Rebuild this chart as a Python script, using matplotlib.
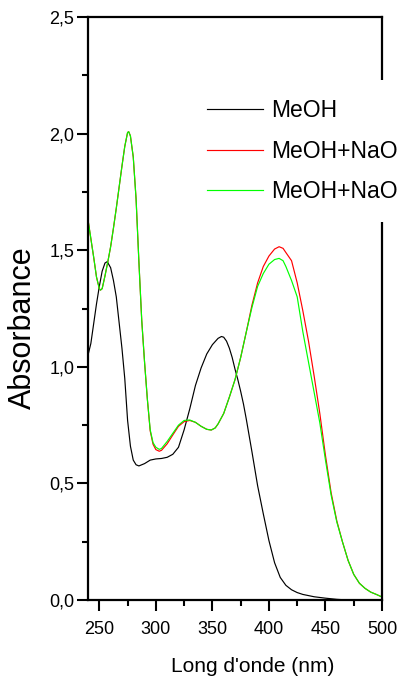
import matplotlib
matplotlib.use("Agg")
import matplotlib.pyplot as plt
from matplotlib.ticker import MultipleLocator, FuncFormatter

plt.rcParams['font.family'] = ['Liberation Sans', 'DejaVu Sans']

# MeOH
wl_meoh = [240, 242.5, 245, 247.5, 250, 252.5, 255, 257, 260, 262.5, 265, 267.5,
           270, 272.5, 275, 277.5, 280, 282.5, 285, 290, 295, 300, 305, 310, 315,
           320, 325, 330, 335, 340, 345, 350, 355, 358, 360, 362.5, 365, 367.5,
           370, 372.5, 375, 377.5, 380, 385, 390, 395, 400, 405, 410, 415, 420,
           425, 430, 440, 450, 460, 470, 500]
abs_meoh = [1.05, 1.10, 1.185, 1.27, 1.345, 1.41, 1.445, 1.451, 1.425, 1.37,
            1.30, 1.19, 1.08, 0.95, 0.77, 0.66, 0.60, 0.58, 0.575, 0.585, 0.60,
            0.605, 0.607, 0.612, 0.625, 0.655, 0.73, 0.82, 0.92, 0.995, 1.055,
            1.095, 1.122, 1.13, 1.127, 1.11, 1.08, 1.04, 0.99, 0.945, 0.895,
            0.84, 0.775, 0.635, 0.49, 0.37, 0.255, 0.16, 0.097, 0.063, 0.044,
            0.032, 0.024, 0.014, 0.008, 0.003, 0.0, 0.0]

# MeOH+NaOH
wl_naoh = [240, 242.5, 245, 247.5, 250, 251, 252.5, 255, 257.5, 260, 262.5, 265,
           267.5, 270, 272.5, 275, 276, 277.5, 280, 282.5, 285, 287.5, 290, 292.5,
           295, 297.5, 300, 303, 305, 310, 315, 320, 325, 330, 335, 340, 345, 349,
           352.5, 355, 360, 365, 370, 375, 380, 385, 390, 395, 400, 405, 409,
           412.5, 415, 420, 425, 430, 435, 440, 445, 450, 455, 460, 465, 470, 475,
           480, 485, 490, 495, 500]
# red curve
abs_naoh1 = [1.63, 1.55, 1.47, 1.385, 1.335, 1.329, 1.335, 1.39, 1.45, 1.515,
             1.595, 1.68, 1.77, 1.86, 1.945, 2.005, 2.008, 1.99, 1.90, 1.72, 1.45,
             1.20, 1.02, 0.86, 0.725, 0.668, 0.645, 0.638, 0.642, 0.67, 0.708,
             0.745, 0.765, 0.77, 0.762, 0.745, 0.732, 0.729, 0.738, 0.755, 0.80,
             0.87, 0.945, 1.04, 1.15, 1.265, 1.36, 1.43, 1.475, 1.505, 1.515,
             1.508, 1.49, 1.455, 1.36, 1.24, 1.11, 0.96, 0.80, 0.62, 0.46, 0.34,
             0.25, 0.17, 0.11, 0.072, 0.05, 0.034, 0.024, 0.013]
# green curve
abs_naoh2 = [1.63, 1.55, 1.47, 1.385, 1.335, 1.329, 1.335, 1.39, 1.45, 1.515,
             1.595, 1.68, 1.77, 1.86, 1.945, 2.005, 2.008, 1.99, 1.90, 1.72, 1.45,
             1.20, 1.02, 0.86, 0.73, 0.675, 0.655, 0.646, 0.65, 0.68, 0.715,
             0.75, 0.77, 0.772, 0.762, 0.745, 0.732, 0.729, 0.738, 0.755, 0.80,
             0.87, 0.945, 1.04, 1.15, 1.255, 1.345, 1.40, 1.44, 1.46, 1.465,
             1.455, 1.43, 1.37, 1.30, 1.15, 1.02, 0.89, 0.76, 0.60, 0.45, 0.335,
             0.25, 0.17, 0.11, 0.072, 0.05, 0.034, 0.024, 0.013]

labels = ["MeOH", "MeOH+NaOH", "MeOH+NaOH"]
colors = ["black", "#ff0000", "#00ff00"]

fig = plt.figure(figsize=(3.99, 6.94), dpi=100)
ax = fig.add_axes([0.2206, 0.1354, 0.7368, 0.8401])

ax.plot(wl_meoh, abs_meoh, color=colors[0], lw=0.85, label=labels[0])
ax.plot(wl_naoh, abs_naoh1, color=colors[1], lw=0.85, label=labels[1])
ax.plot(wl_naoh, abs_naoh2, color=colors[2], lw=0.85, label=labels[2])

ax.set_xlim(240, 500)
ax.set_ylim(0, 2.5)
ax.xaxis.set_major_locator(MultipleLocator(50))
ax.xaxis.set_minor_locator(MultipleLocator(25))
ax.yaxis.set_major_locator(MultipleLocator(0.5))
ax.yaxis.set_minor_locator(MultipleLocator(0.25))
ax.yaxis.set_major_formatter(FuncFormatter(lambda v, p: f"{v:.1f}".replace(".", ",")))
ax.xaxis.set_major_formatter(FuncFormatter(lambda v, p: f"{v:.0f}"))

for s in ax.spines.values():
    s.set_linewidth(1.6)
ax.tick_params(which='major', direction='out', length=8, width=1.5, labelsize=13, pad=2)
ax.tick_params(which='minor', direction='out', length=4.5, width=1.5)
ax.tick_params(axis='x', which='major', pad=7)

ax.set_xlabel("Long d'onde (nm)", fontsize=15)
ax.xaxis.set_label_coords(0.5595, -0.098)
ax.set_ylabel("Absorbance", fontsize=22, va='center')
ax.yaxis.set_label_coords(-0.221, 0.467)

leg = ax.legend(loc='upper left', bbox_to_anchor=(0.338, 0.892), fontsize=16.5,
                frameon=True, facecolor='white', edgecolor='none', framealpha=1,
                fancybox=False, handlelength=2.45, handletextpad=0.35,
                labelspacing=0.75, borderpad=0.85, borderaxespad=0)
leg.set_zorder(5)

fig.savefig("out.png", dpi=100)
